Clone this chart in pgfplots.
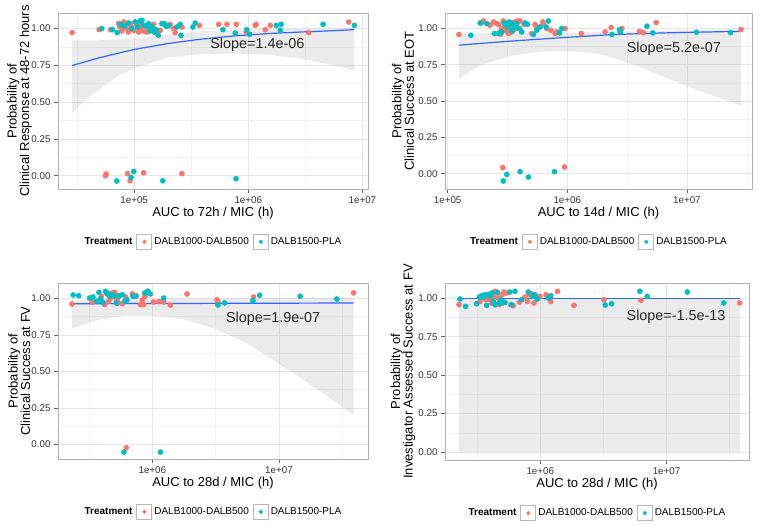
\documentclass[border=0pt]{standalone}
\usepackage{fontspec}
\setmainfont{Liberation Sans}
\usepackage{pgfplots}
\pgfplotsset{compat=1.18}
\definecolor{trtred}{HTML}{F8766D}
\definecolor{trtteal}{HTML}{00BFC4}
\definecolor{fitblue}{HTML}{3366FF}
\definecolor{gridmaj}{HTML}{E6E6E6}
\definecolor{gridmin}{HTML}{F3F3F3}

\tikzset{slopelab/.style={font=\fontsize{14.4}{16}\selectfont, text=black!85}}

\pgfplotsset{
  ggpanel/.style={
    scale only axis,
    anchor=south west,
    axis line style={draw=black!30, line width=0.6pt},
    tick align=outside,
    major tick length=4pt,
    minor tick length=0pt,
    tick style={black!60, line width=0.6pt},
    xtick pos=left, ytick pos=left,
    grid=both,
    major grid style={draw=gridmaj, line width=0.6pt},
    minor grid style={draw=gridmin, line width=0.4pt},
    ytick={0,0.25,0.5,0.75,1},
    yticklabels={0.00,0.25,0.50,0.75,1.00},
    minor ytick={0.125,0.375,0.625,0.875},
    ticklabel style={font=\fontsize{9.8}{11}\selectfont, text=black!80},
    label style={font=\fontsize{13}{12.5}\selectfont},
    xlabel style={at={(axis description cs:0.5,0)}, anchor=center, yshift=-24pt},
    ylabel style={align=center, anchor=center},
    legend columns=-1,
    legend style={at={(0.5,-0.30)}, anchor=center, draw=none, fill=none,
      font=\fontsize{10}{12}\selectfont,
      /tikz/every even column/.append style={column sep=2pt}},
  },
  trtpts/.style={only marks, mark=*, mark size=2.6pt, color=#1,
    legend image code/.code={
      \draw[black!28, fill=white, line width=0.9pt] (0pt,-7.5pt) rectangle (15pt,7.5pt);
      \draw[#1, only marks, mark=*, mark size=1.9pt] plot coordinates {(7.5pt,0pt)};
    }},
  ciband/.style={draw=none, fill=black!40, fill opacity=0.2, forget plot},
  fitline/.style={fitblue, line width=1.2pt, forget plot},
}

\begin{document}
\begin{tikzpicture}
\useasboundingbox (0pt,0pt) rectangle (760pt,525pt);

% ---- top left: response at 48-72 h
\begin{axis}[ggpanel, xmode=log, at={(58pt,336pt)}, width=310pt, height=176pt,
  xmin=2.15e4, xmax=1.12e7, ymin=-0.09, ymax=1.104,
  xtick={1e5,1e6,1e7}, xticklabels={1e+05,1e+06,1e+07},
  minor xtick={3.162e4,3.162e5,3.162e6},
  xlabel={AUC to 72h / MIC (h)},
  ylabel={Probability of\\Clinical Response at 48-72 hours},
  ylabel style={at={(axis description cs:-0.124,0.5)}},
]
\addlegendimage{empty legend}\addlegendentry{\textbf{Treatment}}
\addplot[ciband] coordinates {
  (2.86e4,0.919)(5.04e4,0.919)(9.9e4,0.930)(1.94e5,0.957)(3.79e5,0.980)(7.43e5,0.991)(1.46e6,0.995)(8.51e6,1.0)
  (8.51e6,0.712)(5.61e6,0.750)(2.86e6,0.795)(1.46e6,0.822)(7.43e5,0.829)(3.79e5,0.824)(1.94e5,0.802)
  (9.9e4,0.727)(7.05e4,0.671)(5.04e4,0.592)(3.6e4,0.502)(2.86e4,0.423)};
\addplot[trtpts=trtred] coordinates {
  (2.86e4,0.971)(4.93e4,0.991)(6.2e4,0.991)(7.3e4,1.032)(7.5e4,1.009)(7.8e4,0.982)(8.1e4,1.043)
  (8.3e4,1.020)(8.6e4,0.998)(8.9e4,0.975)(9.2e4,1.032)(9.5e4,1.009)(9.9e4,0.986)(1.02e5,1.043)
  (1.055e5,1.020)(1.09e5,0.975)(1.13e5,0.998)(1.17e5,1.027)(1.21e5,0.982)(1.29e5,0.975)(1.34e5,1.009)
  (1.43e5,0.998)(1.48e5,1.027)(1.53e5,0.975)(1.58e5,0.964)(1.69e5,0.986)(1.78e5,1.032)(1.87e5,1.027)
  (2.07e5,1.027)(2.21e5,0.998)(2.29e5,0.971)(2.62e5,1.009)(3.74e5,1.020)(5.5e5,1.027)(6.5e5,1.027)
  (7.85e5,1.027)(9.6e5,0.975)(1.15e6,1.020)(1.17e6,1.027)(1.41e6,0.991)(1.56e6,1.020)(3.38e6,0.971)
  (7.59e6,1.043)
  (5.6e4,0.0)(5.68e4,0.011)(8.75e4,0.014)(9.2e4,-0.034)(1.21e5,0.020)(2.62e5,0.014)};
\addlegendentry{DALB1000-DALB500}
\addplot[trtpts=trtteal] coordinates {
  (5.2e4,0.998)(6.45e4,0.991)(7.1e4,0.971)(7.6e4,1.027)(8.2e4,1.014)(8.9e4,1.036)(9.5e4,0.998)
  (1.02e5,1.043)(1.07e5,1.009)(1.13e5,1.050)(1.17e5,1.054)(1.22e5,1.020)(1.29e5,1.014)(1.34e5,1.032)
  (1.38e5,0.982)(1.43e5,1.009)(1.50e5,0.975)(1.56e5,0.991)(1.63e5,0.953)(1.75e5,1.032)(1.83e5,1.032)
  (1.91e5,1.014)(2.0e5,1.018)(2.37e5,1.009)(2.53e5,1.027)(2.57e5,0.953)(3.27e5,1.009)(3.43e5,1.036)
  (6.0e5,0.991)(7.7e5,0.968)(9.7e5,0.991)(1.03e6,0.959)(1.76e6,1.020)(1.94e6,1.027)(1.91e6,0.986)
  (4.52e6,1.027)(8.51e6,1.020)
  (7.05e4,-0.036)(9.4e4,-0.011)(9.9e4,0.029)(1.78e5,-0.034)(7.8e5,-0.020)};
\addlegendentry{DALB1500-PLA}
\addplot[fitline] coordinates {
  (2.86e4,0.748)(5.04e4,0.802)(9.9e4,0.856)(1.94e5,0.896)(3.79e5,0.926)(7.43e5,0.948)
  (1.46e6,0.964)(2.86e6,0.975)(5.61e6,0.984)(8.51e6,0.991)};
\node[slopelab] at (axis cs:1.2e6,0.89) {Slope=1.4e-06};
\end{axis}

% ---- top right: success at EOT
\begin{axis}[ggpanel, xmode=log, at={(445pt,336pt)}, width=307pt, height=176pt,
  xmin=9.5e4, xmax=3.5e7, ymin=-0.105, ymax=1.105,
  xtick={1e5,1e6,1e7}, xticklabels={1e+05,1e+06,1e+07},
  minor xtick={3.162e5,3.162e6,3.162e7},
  xlabel={AUC to 14d / MIC (h)},
  ylabel={Probability of\\Clinical Success at EOT},
  ylabel style={at={(axis description cs:-0.137,0.5)}},
]
\addlegendimage{empty legend}\addlegendentry{\textbf{Treatment}}
\addplot[ciband] coordinates {
  (1.24e5,0.964)(3.55e5,0.966)(1.01e6,0.970)(2.43e6,0.975)(6.38e6,0.985)(2.83e7,0.993)
  (2.83e7,0.467)(1.21e7,0.576)(6.38e6,0.667)(3.36e6,0.759)(1.77e6,0.827)(1.01e6,0.845)
  (6.73e5,0.843)(3.55e5,0.815)(1.87e5,0.747)(1.24e5,0.649)};
\addplot[trtpts=trtred] coordinates {
  (1.24e5,0.957)(1.90e5,1.036)(1.99e5,1.050)(2.26e5,1.021)(2.41e5,1.043)(2.57e5,1.032)(2.66e5,1.027)
  (2.74e5,0.975)(2.78e5,0.959)(2.83e5,0.998)(2.92e5,1.050)(3.02e5,1.014)(3.08e5,0.982)(3.16e5,1.036)
  (3.22e5,0.964)(3.28e5,0.998)(3.37e5,1.021)(3.43e5,0.975)(3.55e5,0.986)(3.62e5,1.043)(3.73e5,1.027)
  (3.83e5,1.050)(3.90e5,0.998)(4.03e5,1.050)(4.35e5,1.027)(5.05e5,0.964)(5.38e5,1.027)(5.49e5,1.014)
  (6.24e5,1.043)(6.32e5,1.032)(6.73e5,0.998)(7.28e5,0.986)(7.91e5,0.964)(8.17e5,0.975)(9.59e5,0.998)
  (1.31e6,0.964)(2.07e6,0.975)(2.33e6,1.005)(2.86e6,0.998)(4.02e6,0.979)(4.34e6,0.970)(5.53e6,1.039)
  (2.83e7,0.991)
  (2.89e5,0.041)(9.47e5,0.046)};
\addlegendentry{DALB1000-DALB500}
\addplot[trtpts=trtteal] coordinates {
  (1.56e5,0.952)(1.87e5,1.036)(2.12e5,1.032)(2.46e5,0.964)(2.66e5,0.964)(2.83e5,0.975)(2.96e5,1.036)
  (3.08e5,1.027)(3.18e5,1.009)(3.28e5,1.043)(3.39e5,1.032)(3.45e5,0.982)(3.55e5,1.021)(3.66e5,1.009)
  (3.78e5,1.032)(3.98e5,0.998)(4.16e5,0.975)(4.44e5,1.036)(4.65e5,1.027)(5.21e5,0.957)(5.56e5,0.986)
  (5.93e5,1.009)(6.66e5,1.009)(6.95e5,1.050)(8.60e5,0.968)(8.99e5,0.998)(2.36e6,0.957)(2.73e6,0.991)
  (2.77e6,0.975)(4.63e6,1.014)(5.19e6,0.968)(1.20e7,0.973)(2.31e7,0.970)
  (2.92e5,-0.050)(3.12e5,-0.005)(4.03e5,0.014)(4.73e5,-0.023)(7.81e5,0.014)};
\addlegendentry{DALB1500-PLA}
\addplot[fitline] coordinates {
  (1.24e5,0.884)(3.55e5,0.913)(1.01e6,0.938)(2.43e6,0.957)(6.38e6,0.968)(1.21e7,0.973)(2.83e7,0.979)};
\node[slopelab] at (axis cs:7.78e6,0.857) {Slope=5.2e-07};
\end{axis}

% ---- bottom left: success at FV
\begin{axis}[ggpanel, xmode=log, at={(58pt,66pt)}, width=310pt, height=176pt,
  xmin=1.80e5, xmax=5.05e7, ymin=-0.10, ymax=1.105,
  xtick={1e6,1e7}, xticklabels={1e+06,1e+07},
  minor xtick={3.162e5,3.162e6,3.162e7},
  xlabel={AUC to 28d / MIC (h)},
  ylabel={Probability of\\Clinical Success at FV},
  ylabel style={at={(axis description cs:-0.125,0.5)}},
]
\addlegendimage{empty legend}\addlegendentry{\textbf{Treatment}}
\addplot[ciband] coordinates {
  (2.32e5,0.986)(1.0e6,0.995)(3.88e7,1.005)
  (3.88e7,0.201)(1.97e7,0.384)(1.08e7,0.533)(5.87e6,0.682)(3.20e6,0.789)(1.75e6,0.858)
  (1.0e6,0.881)(6.0e5,0.881)(3.84e5,0.854)(2.32e5,0.796)};
\addplot[trtpts=trtred] coordinates {
  (2.32e5,0.961)(3.36e5,0.973)(3.84e5,0.989)(3.96e5,1.014)(4.21e5,0.957)(4.39e5,1.030)(4.52e5,0.979)
  (4.66e5,1.002)(4.80e5,1.037)(4.89e5,1.014)(5.04e5,1.041)(5.14e5,1.025)(5.26e5,0.989)(5.36e5,0.968)
  (5.52e5,1.018)(5.80e5,0.963)(6.16e5,1.009)(6.95e5,1.030)(7.48e5,1.018)(8.04e5,0.957)(8.34e5,0.989)
  (8.55e5,0.957)(8.75e5,1.014)(8.97e5,1.037)(9.13e5,1.048)(1.02e6,0.975)(1.13e6,0.979)(1.23e6,0.975)
  (1.39e6,0.954)(1.88e6,1.030)(3.24e6,0.989)(3.30e6,0.975)(6.31e6,1.009)(3.88e7,1.037)
  (6.23e5,-0.023)};
\addlegendentry{DALB1000-DALB500}
\addplot[trtpts=trtteal] coordinates {
  (2.37e5,1.023)(2.62e5,1.018)(3.20e5,1.002)(3.40e5,1.009)(3.62e5,0.979)(3.79e5,1.041)(3.91e5,0.995)
  (4.08e5,0.973)(4.28e5,1.048)(4.41e5,1.037)(4.60e5,1.014)(4.74e5,1.025)(4.98e5,1.018)(5.20e5,0.968)
  (5.42e5,1.014)(5.80e5,1.025)(6.05e5,0.979)(6.31e5,0.989)(7.04e5,1.014)(7.38e5,1.014)(8.70e5,1.037)
  (9.24e5,1.048)(9.64e5,1.030)(1.23e6,1.002)(3.30e6,0.954)(3.72e6,0.968)(6.23e6,0.984)(7.04e6,1.021)
  (1.47e7,1.014)(2.87e7,0.995)
  (5.97e5,-0.053)(1.16e6,-0.053)};
\addlegendentry{DALB1500-PLA}
\addplot[fitline] coordinates {(2.32e5,0.963)(3.88e7,0.968)};
\node[slopelab] at (axis cs:9.0e6,0.858) {Slope=1.9e-07};
\end{axis}

% ---- bottom right: investigator assessed success at FV
\begin{axis}[ggpanel, xmode=log, at={(445pt,65pt)}, width=304pt, height=177pt,
  xmin=1.76e5, xmax=4.5e7, ymin=-0.052, ymax=1.10,
  xtick={1e6,1e7}, xticklabels={1e+06,1e+07},
  minor xtick={3.162e5,3.162e6,3.162e7},
  xlabel={AUC to 28d / MIC (h)},
  ylabel={Probability of\\Investigator Assessed Success at FV},
  ylabel style={at={(axis description cs:-0.138,0.5)}},
]
\addlegendimage{empty legend}\addlegendentry{\textbf{Treatment}}
\addplot[ciband] coordinates {(2.27e5,0)(3.80e7,0)(3.80e7,1.0)(2.27e5,1.0)};
\addplot[trtpts=trtred] coordinates {
  (2.27e5,0.959)(3.33e5,0.980)(3.58e5,1.002)(3.72e5,0.991)(3.95e5,0.996)(4.12e5,0.970)(4.25e5,1.013)
  (4.38e5,1.046)(4.46e5,0.959)(4.57e5,1.035)(4.65e5,1.002)(4.74e5,0.959)(4.85e5,0.980)(5.00e5,1.024)
  (5.16e5,1.041)(5.42e5,1.035)(5.86e5,0.959)(6.11e5,0.952)(6.82e5,0.976)(7.56e5,1.009)(7.89e5,0.980)
  (8.18e5,1.024)(8.54e5,1.030)(8.91e5,0.970)(9.94e5,1.013)(1.11e6,1.024)(1.21e6,0.980)(1.37e6,1.046)
  (1.85e6,0.954)(3.19e6,0.991)(6.27e6,0.987)(3.80e7,0.970)};
\addlegendentry{DALB1000-DALB500}
\addplot[trtpts=trtteal] coordinates {
  (2.31e5,0.996)(2.56e5,0.948)(3.13e5,0.965)(3.29e5,1.009)(3.43e5,1.017)(3.54e5,1.007)(3.65e5,1.024)
  (3.76e5,0.954)(3.87e5,1.024)(4.00e5,1.017)(4.12e5,1.035)(4.25e5,0.980)(4.38e5,0.959)(4.57e5,1.039)
  (4.74e5,0.970)(4.88e5,0.991)(5.09e5,0.970)(5.25e5,0.974)(5.75e5,1.041)(5.93e5,0.959)(6.30e5,1.046)
  (7.11e5,0.991)(8.04e5,1.041)(8.70e5,1.013)(9.07e5,1.024)(9.46e5,0.996)(1.16e6,1.002)(1.21e6,1.017)
  (3.27e6,0.957)(3.67e6,0.965)(6.15e6,1.046)(7.03e6,1.013)(1.46e7,1.041)(2.84e7,0.970)};
\addlegendentry{DALB1500-PLA}
\addplot[fitline] coordinates {(2.27e5,1.0)(3.80e7,1.0)};
\node[slopelab] at (axis cs:1.19e7,0.879) {Slope=-1.5e-13};
\end{axis}
\end{tikzpicture}
\end{document}
